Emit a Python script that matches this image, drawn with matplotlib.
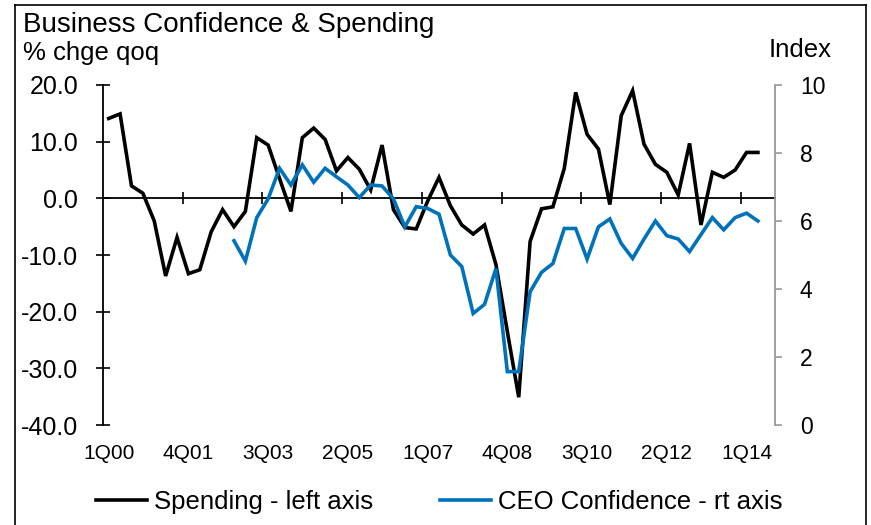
import numpy as np
import matplotlib
matplotlib.use("Agg")
import matplotlib.pyplot as plt
from matplotlib.lines import Line2D

plt.rcParams["font.family"] = ["Liberation Sans", "DejaVu Sans"]

# quarterly categories 1Q00 .. 3Q14 (last slot is empty)
quarters = [f"{q}Q{y:02d}" for y in range(0, 15) for q in range(1, 5)][:59]
tick_every = 7

# % change qoq, 1Q00 .. 2Q14
spending = [14.1, 14.9, 2.2, 0.9, -4.0, -13.7, -6.9, -13.3, -12.6, -5.9,
            -2.0, -5.0, -2.3, 10.7, 9.4, 3.5, -2.3, 10.7, 12.4, 10.4,
            4.85, 7.2, 5.15, 1.5, 9.4, -2.0, -5.15, -5.4, -0.5, 3.7,
            -1.3, -4.7, -6.3, -4.7, -11.7, -23.5, -35.1, -7.6, -1.85, -1.5,
            5.3, 18.7, 11.3, 8.7, -1.1, 14.6, 19.0, 9.55, 6.0, 4.6,
            0.6, 9.7, -4.7, 4.6, 3.7, 5.0, 8.1, 8.1]

# CEO confidence index (starts 4Q02)
ceo = [None] * 11 + [5.42, 4.82, 6.1, 6.65, 7.55, 7.06, 7.65, 7.14, 7.55,
                     7.3, 7.06, 6.69, 7.06, 7.03, 6.65, 5.83, 6.42, 6.37, 6.2,
                     5.0, 4.66, 3.28, 3.55, 4.6, 1.57, 1.57, 3.92, 4.49, 4.75,
                     5.78, 5.78, 4.88, 5.83, 6.06, 5.34, 4.9, 5.47, 6.0, 5.57,
                     5.47, 5.1, 5.6, 6.1, 5.74, 6.1, 6.23, 6.0]

spend = np.array(spending, dtype=float)
conf = np.array([np.nan if v is None else v for v in ceo], dtype=float)
x = np.arange(len(spend))

W, H = 871, 525
fig = plt.figure(figsize=(W / 100, H / 100), dpi=100)
ax = fig.add_axes([103 / W, 1 - 425 / H, (775 - 103) / W, (425 - 85) / H])
ax2 = ax.twinx()

ax.plot(x, spend, color="black", lw=2.6, solid_joinstyle="miter")
ax2.plot(x, conf, color="#0072BC", lw=2.6, solid_joinstyle="miter")

ax.set_xlim(-0.5, len(quarters) - 0.5)
ax.set_ylim(-40, 20)
ax.set_yticks(np.arange(-40, 21, 10))
ax.set_yticklabels([f"{v:.1f}" for v in np.arange(-40, 21, 10)])
ax2.set_ylim(0, 10)
ax2.set_yticks(np.arange(0, 11, 2))

# x axis sits at zero, labels stay at the bottom
ax.spines["bottom"].set_position(("data", 0))
ax.spines["bottom"].set_linewidth(1.3)
ax.spines["top"].set_visible(False)
ax.spines["right"].set_visible(False)
ax.spines["left"].set_linewidth(1.3)
ax.set_xticks(np.arange(tick_every - 0.5, len(quarters), tick_every))
ax.tick_params(axis="x", direction="inout", length=8, width=1.2, labelbottom=False)
ax.tick_params(axis="y", direction="inout", length=9.5, width=1.2, pad=13, labelsize=18)

for s in ("top", "left", "bottom"):
    ax2.spines[s].set_visible(False)
ax2.spines["right"].set_color("#999999")
ax2.spines["right"].set_linewidth(1.3)
ax2.tick_params(axis="y", direction="out", length=5, width=1.2, color="#999999",
                pad=13, labelsize=16.5)

sec = ax.secondary_xaxis("bottom")
sec.set_xticks(x[::tick_every])
sec.set_xticklabels(quarters[::tick_every][:len(x[::tick_every])])
sec.spines["bottom"].set_visible(False)
sec.tick_params(length=0, pad=14, labelsize=15)

fig.text(23 / W, 1 - 32 / H, "Business Confidence & Spending", fontsize=20, va="baseline")
fig.text(23 / W, 1 - 60 / H, "% chge qoq", fontsize=18.5, va="baseline")
fig.text(832 / W, 1 - 57 / H, "Index", fontsize=18.5, va="baseline", ha="right")

handles = [Line2D([], [], color="black", lw=2.6), Line2D([], [], color="#0072BC", lw=2.6)]
fig.legend(handles, ["Spending - left axis", "CEO Confidence - rt axis"],
           loc="center", bbox_to_anchor=(439 / W, 1 - 502 / H), ncol=2, frameon=False,
           fontsize=18.5, handlelength=2.0, handletextpad=0.25, columnspacing=2.6)

# outer frame (open at the bottom)
for xs, ys in (((15, 15), (5, H + 5)), ((15, 866), (5, 5)), ((866, 866), (5, H + 5))):
    fig.add_artist(Line2D([v / W for v in xs], [1 - v / H for v in ys], color="black", lw=1.2))

fig.savefig("out.png", dpi=100)
